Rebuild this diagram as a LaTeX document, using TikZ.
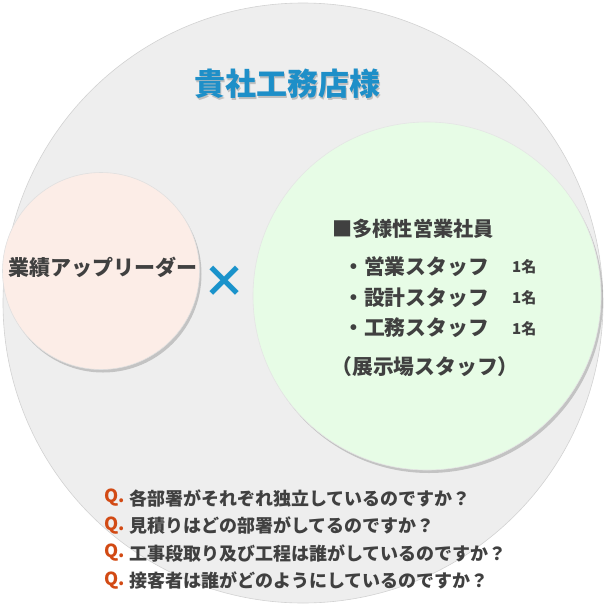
\documentclass[tikz,border=0pt]{standalone}
\usepackage{fontspec}
\setmainfont{Noto Sans CJK JP}
\usepackage{tikz}
\usetikzlibrary{positioning,shadows}
\definecolor{ringgray}{HTML}{EEEEEE}
\definecolor{ringline}{HTML}{D2D2D2}
\definecolor{leaderpink}{HTML}{FCEDE7}
\definecolor{staffgreen}{HTML}{E7FCE6}
\definecolor{titleblue}{HTML}{1E8FC8}
\definecolor{crossblue}{HTML}{1A93CB}
\definecolor{qorange}{HTML}{D24A14}
\definecolor{txtgray}{HTML}{404040}
\tikzset{
  ring/.style={
    circle, draw=#1!70!black!40, fill=#1, line width=0.6pt,
    inner sep=0pt
  },
  ring/.default=ringgray,
  softshadow/.style={
    drop shadow={shadow xshift=2pt, shadow yshift=-3pt,
      opacity=0.18, fill=black}
  },
  titlenode/.style={
    font=\fontsize{31}{34}\selectfont\bfseries, text=titleblue,
    inner sep=0pt
  },
  bodytext/.style={
    font=\fontsize{#1}{#1}\selectfont\bfseries, text=txtgray,
    inner sep=0pt
  },
  bodytext/.default=20.8,
  countnode/.style={
    font=\fontsize{15}{15}\selectfont\bfseries, text=txtgray,
    inner sep=0pt, anchor=west
  },
  qmark/.style={
    font=\fontsize{18}{18}\selectfont\bfseries, text=qorange,
    inner sep=0pt, anchor=west
  },
  qtext/.style={
    font=\fontsize{18}{18}\selectfont\bfseries, text=txtgray,
    inner sep=0pt, anchor=west
  },
}
\begin{document}
\begin{tikzpicture}[x=1pt, y=-1pt]
  \useasboundingbox (0,0) rectangle (606,606);

  % Circles
  \node[ring=ringgray, draw=ringline, minimum size=600pt] (company) at (303,303) {};
  \node[ring=leaderpink, draw=black!12, softshadow, minimum size=197pt] (leader) at (101,271) {};
  \node[ring=staffgreen, draw=black!10, softshadow, minimum size=348pt] (staff) at (427,296) {};

  % Title
  \node[titlenode, text=black!25] at (288.5,85.5) {貴社工務店様};
  \node[titlenode] (title) at (287,84) {貴社工務店様};

  % Leader
  \node[bodytext=21] (leadtxt) at (103,267) {業績アップリーダー};
  \node[font=\fontsize{44}{44}\selectfont\bfseries, text=crossblue, inner sep=0pt] (cross) at (224,282) {×};

  % Staff list
  \node[bodytext=20.2, anchor=west] (head) at (332,229) {■多様性営業社員};
  \node[bodytext, anchor=west] (s1) at (343,267) {・営業スタッフ};
  \node[bodytext, below=10pt of s1.south west, anchor=north west] (s2) {・設計スタッフ};
  \node[bodytext, below=10pt of s2.south west, anchor=north west] (s3) {・工務スタッフ};
  \node[countnode] (c1) at (512,267) {1名};
  \node[countnode] (c2) at (512,298) {1名};
  \node[countnode] (c3) at (512,329) {1名};
  \node[bodytext] (showroom) at (425,367) {（展示場スタッフ）};

  % Questions
  \foreach \q [count=\i] in {各部署がそれぞれ独立しているのですか？,
      見積りはどの部署がしてるのですか？,
      工事段取り及び工程は誰がしているのですか？,
      接客者は誰がどのようにしているのですか？} {
    \node[qmark] (q\i) at (104,{470.5+27.5*\i}) {Q.};
    \node[qtext, right=4pt of q\i] (qt\i) {\q};
  }
\end{tikzpicture}
\end{document}
